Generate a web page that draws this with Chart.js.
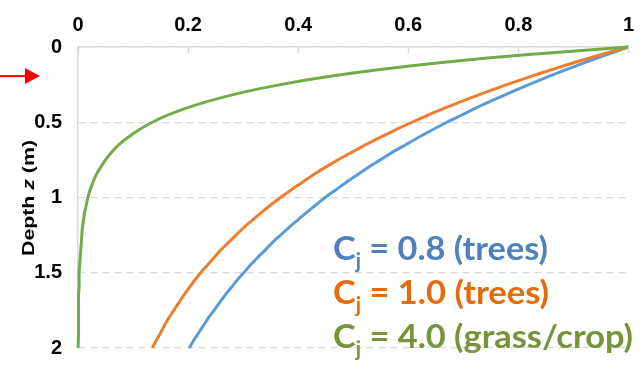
<!DOCTYPE html>
<html>
<head>
<meta charset="utf-8">
<script src="https://cdn.jsdelivr.net/npm/chart.js@4/dist/chart.umd.min.js"></script>
<style>
  html, body { margin: 0; padding: 0; background: #fff; }
</style>
</head>
<body>
<canvas id="rootChart" width="644" height="376"></canvas>
<script>
// depth z (m), read every 0.05 m
const depth = [0, 0.05, 0.1, 0.15, 0.2, 0.25, 0.3, 0.35, 0.4, 0.45, 0.5, 0.55, 0.6, 0.65, 0.7, 0.75, 0.8, 0.85, 0.9, 0.95,
  1, 1.05, 1.1, 1.15, 1.2, 1.25, 1.3, 1.35, 1.4, 1.45, 1.5, 1.55, 1.6, 1.65, 1.7, 1.75, 1.8, 1.85, 1.9, 1.95, 2];

// cumulative fraction
const cj08 = [1, 0.961, 0.923, 0.887, 0.852, 0.819, 0.787, 0.756, 0.726, 0.698, 0.670, 0.644, 0.619, 0.595, 0.571, 0.549, 0.527, 0.507, 0.487, 0.468,
  0.449, 0.432, 0.415, 0.399, 0.383, 0.368, 0.353, 0.340, 0.326, 0.313, 0.301, 0.289, 0.278, 0.267, 0.257, 0.247, 0.237, 0.228, 0.219, 0.210, 0.202];
const cj10 = [1, 0.951, 0.905, 0.861, 0.819, 0.779, 0.741, 0.705, 0.670, 0.638, 0.607, 0.577, 0.549, 0.522, 0.497, 0.472, 0.449, 0.427, 0.407, 0.387,
  0.368, 0.350, 0.333, 0.317, 0.301, 0.287, 0.273, 0.259, 0.247, 0.235, 0.223, 0.212, 0.202, 0.192, 0.183, 0.174, 0.165, 0.157, 0.150, 0.142, 0.135];
const cj40 = [1, 0.819, 0.670, 0.549, 0.449, 0.368, 0.301, 0.247, 0.202, 0.165, 0.135, 0.111, 0.091, 0.074, 0.061, 0.050, 0.041, 0.033, 0.027, 0.022,
  0.018, 0.015, 0.012, 0.010, 0.008, 0.007, 0.006, 0.005, 0.004, 0.003, 0.002, 0.002, 0.002, 0.001, 0.001, 0.001, 0.001, 0.001, 0.001, 0.0005, 0.0003];

const xTicks = [0, 0.2, 0.4, 0.6, 0.8, 1];
const yTicks = [0, 0.5, 1, 1.5, 2];

const seriesLabels = ['Cj = 4.0 (grass/crop)', 'Cj = 1.0 (trees)', 'Cj = 0.8 (trees)'];
const lineColors = ['#70AD47', '#ED7D31', '#5B9BD5'];
const textColors = ['#77933C', '#E46C0A', '#4F81BD'];

function toPoints(vals) {
  return depth.map((z, i) => ({ x: vals[i], y: z }));
}

const gridGrey = '#d9d9d9';
const tickFont = { family: '"Liberation Sans Narrow", "Liberation Sans", sans-serif', size: 20, weight: 'bold' };

// inner tick marks on the top axis, the red arrow, the axis title and the labels
const extras = {
  id: 'extras',
  afterDatasetsDraw(chart) {
    const ctx = chart.ctx;
    const area = chart.chartArea;
    const xs = chart.scales.x;
    const ys = chart.scales.y;

    ctx.save();
    ctx.strokeStyle = gridGrey;
    ctx.lineWidth = 1.5;
    xTicks.forEach(v => {
      const px = Math.round(xs.getPixelForValue(v)) + 0.5;
      ctx.beginPath();
      ctx.moveTo(px, area.top);
      ctx.lineTo(px, area.top + 6);
      ctx.stroke();
    });
    ctx.restore();

    // red arrow at 0.2 m
    const ay = ys.getPixelForValue(0.2) - 1;
    ctx.save();
    ctx.strokeStyle = '#ff0000';
    ctx.fillStyle = '#ff0000';
    ctx.lineWidth = 2;
    ctx.beginPath();
    ctx.moveTo(0, ay);
    ctx.lineTo(27, ay);
    ctx.stroke();
    ctx.beginPath();
    ctx.moveTo(25, ay - 8);
    ctx.lineTo(40, ay);
    ctx.lineTo(25, ay + 8);
    ctx.closePath();
    ctx.fill();
    ctx.restore();

    // y axis title with italic z
    ctx.save();
    ctx.fillStyle = '#000';
    ctx.textBaseline = 'middle';
    const parts = [['Depth ', 'bold 16px "Liberation Sans"'], ['z', 'italic bold 16px "Liberation Sans"'], [' (m)', 'bold 16px "Liberation Sans"']];
    let total = 0;
    parts.forEach(p => { ctx.font = p[1]; total += ctx.measureText(p[0]).width; });
    const sx = 116 / total;
    ctx.translate(30, 198);
    ctx.rotate(-Math.PI / 2);
    ctx.scale(sx, 1);
    let cx = -total / 2;
    parts.forEach(p => { ctx.font = p[1]; ctx.fillText(p[0], cx, 0); cx += ctx.measureText(p[0]).width; });
    ctx.restore();

    // series labels
    const rows = [
      { text: ' = 0.8 (trees)', color: textColors[2], base: 260, w: 215 },
      { text: ' = 1.0 (trees)', color: textColors[1], base: 304, w: 216 },
      { text: ' = 4.0 (grass/crop)', color: textColors[0], base: 348, w: 300 }
    ];
    rows.forEach(r => {
      ctx.save();
      ctx.fillStyle = r.color;
      ctx.textBaseline = 'alphabetic';
      const big = 'bold 33px Lato';
      const small = 'bold 20px Lato';
      ctx.font = big;
      const wC = ctx.measureText('C').width;
      const wR = ctx.measureText(r.text).width;
      ctx.font = small;
      const wj = ctx.measureText('j').width;
      const s = r.w / (wC + wj + wR);
      ctx.translate(333, r.base);
      ctx.scale(s, 1);
      ctx.font = big;
      ctx.fillText('C', 0, 0);
      ctx.font = small;
      ctx.fillText('j', wC, 8);
      ctx.font = big;
      ctx.fillText(r.text, wC + wj, 0);
      ctx.restore();
    });
  }
};

const ctx = document.getElementById('rootChart').getContext('2d');

const myChart = new Chart(ctx, {
  type: 'scatter',
  data: {
    datasets: [
      { label: seriesLabels[0], data: toPoints(cj40), borderColor: lineColors[0] },
      { label: seriesLabels[1], data: toPoints(cj10), borderColor: lineColors[1] },
      { label: seriesLabels[2], data: toPoints(cj08), borderColor: lineColors[2] }
    ].map(d => Object.assign(d, {
      showLine: true,
      pointRadius: 0,
      borderWidth: 3,
      tension: 0.3,
      clip: false,
      fill: false
    }))
  },
  options: {
    responsive: false,
    animation: false,
    events: [],
    layout: { padding: { left: 0, right: 11, top: 0, bottom: 14 } },
    plugins: {
      legend: { display: false },
      tooltip: { enabled: false }
    },
    scales: {
      x: {
        type: 'linear',
        position: 'top',
        min: 0,
        max: 1,
        afterBuildTicks: s => { s.ticks = xTicks.map(v => ({ value: v })); },
        afterFit: s => { s.height = 47; },
        ticks: { color: '#000', font: tickFont, padding: 10, maxRotation: 0, callback: v => String(v) },
        grid: { display: false, drawTicks: false },
        border: { display: true, color: gridGrey, width: 1.5 }
      },
      y: {
        type: 'linear',
        reverse: true,
        min: 0,
        max: 2,
        afterBuildTicks: s => { s.ticks = yTicks.map(v => ({ value: v })); },
        afterFit: s => { s.width = 78; },
        ticks: { color: '#000', font: tickFont, padding: 16, callback: v => String(v) },
        grid: { color: gridGrey, lineWidth: 1.2, drawTicks: false },
        border: { display: true, color: gridGrey, width: 1.5, dash: [7, 5] }
      }
    }
  },
  plugins: [extras]
});
</script>
</body>
</html>
